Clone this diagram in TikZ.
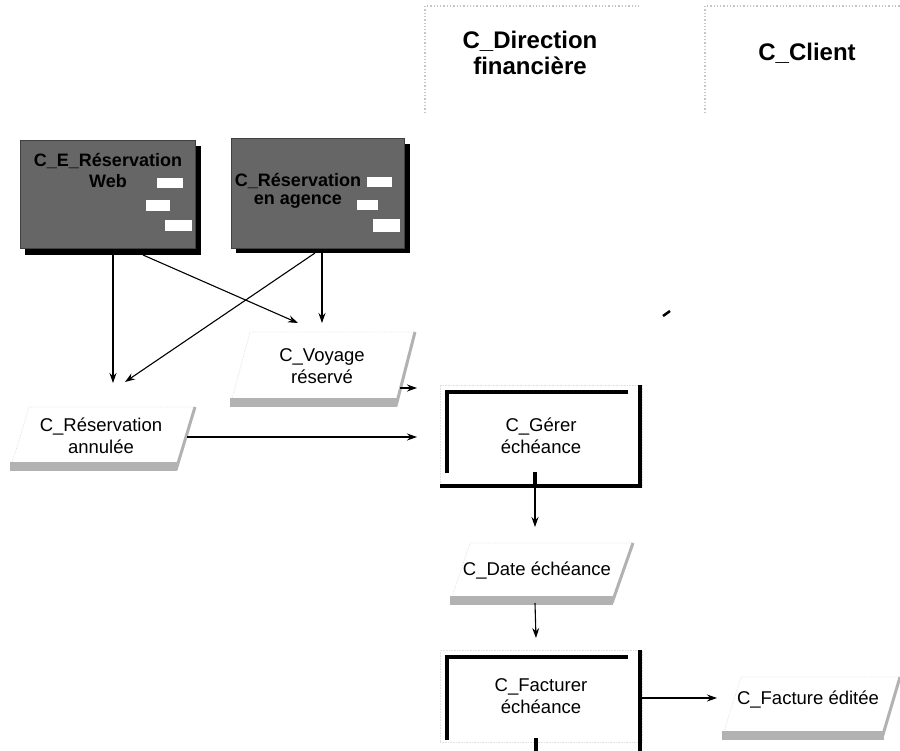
\documentclass[tikz,border=0pt]{standalone}
\usepackage{fontspec}
\setmainfont{Liberation Sans}
\usetikzlibrary{arrows.meta}
\begin{document}
\begin{tikzpicture}[x=1pt,y=-1pt,
  txt/.style={font=\fontsize{18.5}{22}\selectfont, align=center, inner sep=0pt},
  evtxt/.style={font=\bfseries\fontsize{18}{21}\selectfont, align=center, inner sep=0pt, text=black},
  head/.style={font=\bfseries\fontsize{24}{26}\selectfont, align=center, inner sep=0pt},
  lane/.style={draw=gray!45, dotted, line width=1.3pt},
  evbox/.style={rectangle, fill=black!60, draw=black!75, inner sep=0pt, minimum width=175pt, minimum height=108pt},
  evshadow/.style={fill=black},
  slot/.style={fill=white},
  procbox/.style={rectangle, draw=gray!25, densely dotted, line width=0.6pt, inner sep=0pt, minimum width=202pt, font=\fontsize{18.5}{22}\selectfont, align=center},
  frame/.style={line width=3.6pt, black},
  faint/.style={draw=gray!25, densely dotted, line width=0.7pt},
  docedge/.style={draw=gray!60, line width=3pt},
  docband/.style={fill=gray!60},
  arr/.style={line width=1.1pt, -{Stealth[length=10pt,width=7pt]}},
  ln/.style={line width=1.1pt}
]
\useasboundingbox (0,0) rectangle (900,751);

% swimlane headers
\draw[lane] (425,113) -- (425,6) -- (640,6);
\draw[lane] (705,113) -- (705,6) -- (900,6);
\node[head] (hd1) at (530,53) {C\_Direction\\financière};
\node[head] (hd2) at (807,53) {C\_Client};

% event boxes
\fill[evshadow] (25,146) rectangle (201,255);
\node[evbox] (e1) at (107.5,194) {};
\fill[slot] (157,178) rectangle (183,188);
\fill[slot] (146,200) rectangle (170,211);
\fill[slot] (165,220) rectangle (192,231);
\node[evtxt] (e1t) at (108,170) {C\_E\_Réservation\\Web};

\fill[evshadow] (236,144) rectangle (410,253);
\node[evbox, minimum width=173pt, minimum height=110pt] (e2) at (317.5,193) {};
\fill[slot] (367,177) rectangle (392,187);
\fill[slot] (357,200) rectangle (378,210);
\fill[slot] (373,219) rectangle (400,232);
\node[evtxt, font=\bfseries\fontsize{18}{18}\selectfont] (e2t) at (298,191) {C\_Réservation\\en agence};

% document: C_Voyage réservé
\draw[faint] (230,406) -- (250,332) -- (415,332);
\fill[docband] (230,398) rectangle (397,407);
\draw[docedge] (415,332) -- (396,406);
\node[txt] (vy) at (322,366) {C\_Voyage\\réservé};

% document: C_Réservation annulée
\draw[faint] (10,470) -- (29,407) -- (195,407);
\fill[docband] (10,462) rectangle (177,471);
\draw[docedge] (195,407) -- (176,470);
\node[txt] (ra) at (101,436) {C\_Réservation\\annulée};

% process: C_Gérer échéance
\node[procbox, minimum height=102pt] (ge) at (541,436) {C\_Gérer\\échéance};
\draw[frame] (447,473) -- (447,392) -- (628,392);
\draw[frame] (640,385) -- (640,486) -- (440,486);
\draw[frame] (535,472) -- (535,487);

% document: C_Date échéance
\draw[faint] (450,603) -- (470,543) -- (633,543);
\fill[docband] (450,596) rectangle (613,605);
\draw[docedge] (633,543) -- (612,603);
\node[txt] (dt) at (537,571) {C\_Date échéance};

% process: C_Facturer échéance
\node[procbox, minimum height=92pt] (fc) at (541,696) {C\_Facturer\\échéance};
\draw[frame] (447,740) -- (447,657) -- (628,657);
\draw[frame] (640,650) -- (640,751);
\draw[frame] (536,738) -- (536,751);

% document: C_Facture éditée
\draw[faint] (722,738) -- (741,677) -- (900,677);
\fill[docband] (722,731) rectangle (884,740);
\draw[docedge] (900,677) -- (882,738);
\node[txt] (fe) at (808,700) {C\_Facture éditée};

% stray mark
\draw[line width=2.5pt] (663,316) -- (670,311);

% connectors
\draw[arr] ([shift={(5.5,61)}]e1.center) -- ([shift={(12,-53)}]ra.center);
\draw[arr] ([shift={(35.5,61)}]e1.center) -- ([shift={(-24,-43)}]vy.center);
\draw[arr] ([shift={(-2.5,60)}]e2.center) -- ([shift={(24,-54)}]ra.center);
\draw[arr] ([shift={(4.5,60)}]e2.center) -- ([shift={(0,-43)}]vy.center);
\draw[arr] ([shift={(78,22)}]vy.center) -- ([shift={(-124,-48)}]ge.center);
\draw[arr] ([shift={(86,1)}]ra.center) -- ([shift={(-124,1)}]ge.center);
\draw[arr] ([shift={(-6,51)}]ge.center) -- ([shift={(-2,-44)}]dt.center);
\draw[arr] ([shift={(-2,32)}]dt.center) -- ([shift={(-5,-58)}]fc.center);
\draw[arr] ([shift={(99,2)}]fc.center) -- ([shift={(-91,-2)}]fe.center);
\end{tikzpicture}
\end{document}
